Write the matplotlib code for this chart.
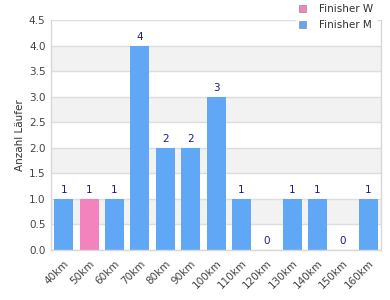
import matplotlib
matplotlib.use("Agg")
import matplotlib.pyplot as plt
import numpy as np

categories = ["40km", "50km", "60km", "70km", "80km", "90km", "100km",
              "110km", "120km", "130km", "140km", "150km", "160km"]
finisher_w = [0, 1, 0, 0, 0, 0, 0, 0, 0, 0, 0, 0, 0]
finisher_m = [1, 0, 1, 4, 2, 2, 3, 1, 0, 1, 1, 0, 1]

col_w = "#f283bc"
col_m = "#60a8f5"
grid_col = "#dddddd"

fig = plt.figure(figsize=(3.9, 3.0), dpi=100)
ax = fig.add_axes([0.131, 0.167, 0.846, 0.765])

x = np.arange(len(categories))
w = np.array(finisher_w)
m = np.array(finisher_m)

# abwechselnde Hintergrundstreifen
for lo in np.arange(0.5, 4.5, 1.0):
    ax.axhspan(lo, lo + 0.5, color="#f2f2f2", zorder=0, lw=0)
for yv in np.arange(0, 4.75, 0.5):
    ax.axhline(yv, color=grid_col, lw=1, zorder=1)

ax.bar(x, w, width=0.75, color=col_w, zorder=2, label="Finisher W")
ax.bar(x, m, width=0.75, bottom=w, color=col_m, zorder=2, label="Finisher M")

tot = w + m
for xi, t in zip(x, tot):
    ax.text(xi, t + 0.07, str(t), ha="center", va="bottom",
            fontsize=7.5, color="#1c1c8a", zorder=3)

ax.set_xlim(-0.5, len(categories) - 0.5)
ax.set_ylim(0, 4.5)
ax.set_yticks(np.arange(0, 4.75, 0.5))
ax.set_yticklabels([f"{v:.1f}" for v in np.arange(0, 4.75, 0.5)])
ax.set_xticks(x)
ax.set_xticklabels(categories, rotation=45, ha="right", rotation_mode="anchor")
ax.tick_params(axis="both", length=0, labelsize=7.5, colors="#444444", pad=4)
ax.tick_params(axis="x", pad=6)
ax.set_ylabel("Anzahl Läufer", fontsize=7.5, color="#333333", labelpad=3)

ax.spines["top"].set_visible(False)
for s in ["left", "bottom", "right"]:
    ax.spines[s].set_color("#d8d8d8")
    ax.spines[s].set_linewidth(1)

handles = [
    plt.Rectangle((0, 0), 1, 1, facecolor=col_w, edgecolor="#999999", lw=0.6),
    plt.Rectangle((0, 0), 1, 1, facecolor=col_m, edgecolor="#999999", lw=0.6)]
leg = fig.legend(handles=handles, labels=["Finisher W", "Finisher M"],
                 loc="upper right", bbox_to_anchor=(0.977, 1.015), frameon=True,
                 fontsize=7.5, handlelength=0.7, handleheight=0.7,
                 handletextpad=1.2, labelspacing=0.6, borderpad=0.3)
leg.get_frame().set_edgecolor("white")
leg.get_frame().set_facecolor("white")
leg.get_frame().set_alpha(1)
leg.set_zorder(10)
for t in leg.get_texts():
    t.set_color("#333333")

fig.savefig("out.png", dpi=100)
